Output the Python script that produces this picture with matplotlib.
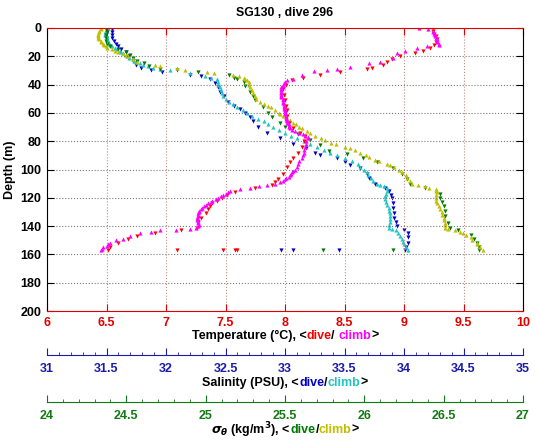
import matplotlib.pyplot as plt
from matplotlib.ticker import MultipleLocator

plt.rcParams['font.family'] = ['Liberation Sans', 'DejaVu Sans']
plt.rcParams['font.weight'] = 'bold'
plt.rcParams['axes.titleweight'] = 'bold'
plt.rcParams['axes.labelweight'] = 'bold'
plt.rcParams['font.size'] = 9

# Temperature, dive (red)
t_dive_z = [0, 2, 4, 6, 8, 10, 12, 14, 16, 18, 20, 22, 24, 26, 28, 29, 31, 33, 35, 37,
            40, 43, 47, 51, 55, 58, 62, 67, 71, 74, 76, 80, 84, 88, 92, 95, 98, 103, 107, 109,
            111, 113, 116, 118, 120, 122, 124, 126, 128, 131, 134, 137, 141, 143, 145, 147, 149, 152, 155, 157,
            157, 157, 157, 157]
t_dive = [9.24, 9.24, 9.25, 9.27, 9.28, 9.27, 9.25, 9.22, 9.16, 9.09, 8.97, 8.90, 8.86, 8.82, 8.73, 8.69, 8.46, 8.29, 8.15, 8.06,
          8.01, 7.98, 7.99, 8.00, 8.01, 8.02, 8.02, 8.03, 8.07, 8.13, 8.17, 8.16, 8.14, 8.11, 8.07, 8.04, 8.02, 7.98, 7.94, 7.92,
          7.89, 7.75, 7.58, 7.51, 7.47, 7.43, 7.39, 7.37, 7.35, 7.34, 7.29, 7.27, 7.26, 7.13, 6.91, 6.76, 6.68, 6.60, 6.53, 6.51,
          7.09, 7.48, 7.58, 7.60]

# Temperature, climb (magenta)
t_climb_z = [157, 156, 155, 154, 153, 152, 150, 149, 147, 145, 144, 143, 142.5, 142, 141, 140, 139, 138, 137, 136,
             135, 134, 133, 132, 131, 130, 129, 128, 127, 126, 125, 124, 123, 122, 121, 120, 119, 118, 117, 116,
             115, 114, 113, 112, 111, 110, 109, 108, 107, 106, 105, 104, 103, 102, 101, 100, 98, 96, 94, 92,
             90, 88, 86, 84, 82, 80, 78, 77, 76, 75, 74, 73, 72, 71, 70, 69, 68, 67, 66, 65,
             64, 63, 62, 61, 60, 59, 58, 57, 56, 55, 54, 53, 52, 51, 50, 49, 48, 47, 46, 45,
             44, 43, 42, 41, 40, 39, 38, 37, 36, 33, 30.5, 30, 29, 27.5, 25, 24, 21, 18, 16, 14,
             13, 12, 11, 10, 9, 8, 7, 6, 5, 4, 3, 2, 1, 0]
t_climb = [6.45, 6.46, 6.47, 6.50, 6.51, 6.53, 6.58, 6.64, 6.70, 6.78, 6.87, 6.95, 7.08, 7.20, 7.25, 7.27, 7.28, 7.27, 7.27, 7.26,
           7.27, 7.26, 7.27, 7.27, 7.27, 7.28, 7.28, 7.29, 7.30, 7.32, 7.34, 7.35, 7.38, 7.39, 7.42, 7.44, 7.46, 7.48, 7.50, 7.52,
           7.54, 7.62, 7.71, 7.78, 7.85, 7.92, 7.96, 7.98, 8.00, 8.01, 8.03, 8.04, 8.05, 8.06, 8.07, 8.08, 8.10, 8.11, 8.12, 8.14,
           8.15, 8.16, 8.16, 8.17, 8.18, 8.18, 8.19, 8.19, 8.17, 8.15, 8.12, 8.08, 8.06, 8.04, 8.03, 8.03, 8.03, 8.02, 8.02, 8.02,
           8.01, 8.01, 8.01, 8.00, 8.00, 8.00, 8.00, 7.99, 7.99, 7.99, 7.99, 7.98, 7.98, 7.98, 7.98, 7.97, 7.97, 7.97, 7.97, 7.97,
           7.97, 7.97, 7.97, 7.98, 7.98, 7.99, 8.00, 8.02, 8.07, 8.14, 8.24, 8.35, 8.44, 8.55, 8.71, 8.80, 8.91, 8.94, 9.01, 9.11,
           9.19, 9.29, 9.29, 9.28, 9.28, 9.28, 9.27, 9.26, 9.26, 9.25, 9.24, 9.24, 9.20, 9.13]

# Salinity, dive (blue)
s_dive_z = [1, 3, 5, 7, 9, 11, 13, 15, 17, 20, 23, 26, 28, 30, 31, 33, 34, 36, 39, 42,
            45, 48, 52, 55, 57, 60, 63, 66, 70, 74, 78, 82, 85, 88, 90, 92, 95, 97, 99, 103,
            106, 110, 113, 115, 118, 120, 124, 127, 131, 134, 137, 140, 143, 145, 148, 152, 155, 157,
            157, 157, 157]
s_dive = [31.55, 31.55, 31.55, 31.55, 31.56, 31.58, 31.60, 31.62, 31.66, 31.69, 31.72, 31.75, 31.79, 31.87, 31.97, 32.20, 32.29, 32.37, 32.41, 32.44,
          32.45, 32.49, 32.52, 32.57, 32.62, 32.66, 32.71, 32.73, 32.77, 32.85, 32.96, 33.07, 33.18, 33.25, 33.29, 33.44, 33.50, 33.55, 33.63, 33.69,
          33.71, 33.76, 33.84, 33.87, 33.89, 33.90, 33.91, 33.91, 33.92, 33.92, 33.93, 33.94, 34.00, 34.03, 34.03, 34.03, 34.02, 34.01,
          32.97, 33.07, 33.45]

# Salinity, climb (cyan)
s_climb_z = [157, 155, 153, 151, 149, 147, 145, 143, 142, 141, 139, 137, 135, 133, 131, 129, 127, 125, 123, 121,
             119, 117, 115, 113, 112, 111, 110, 108, 106, 104, 102, 100, 98, 96, 94, 92, 90, 88, 86, 84,
             82, 80, 78, 76, 74, 72, 70, 68, 66, 64, 62, 60, 58, 56, 54, 52, 50, 48, 46, 44,
             42, 40, 38, 36, 35, 34, 32, 30, 29, 28, 27, 26, 25, 24, 23, 22, 21, 20, 19, 18,
             17, 16, 15, 14, 13, 12, 11, 10, 9, 8, 7, 6, 5, 4, 3, 2, 1, 0]
s_climb = [34.03, 34.02, 34.00, 33.99, 33.98, 33.97, 33.95, 33.93, 33.90, 33.87, 33.87, 33.88, 33.88, 33.88, 33.88, 33.87, 33.87, 33.86, 33.85, 33.84,
           33.84, 33.85, 33.86, 33.86, 33.83, 33.80, 33.77, 33.74, 33.72, 33.70, 33.69, 33.66, 33.63, 33.61, 33.56, 33.50, 33.44, 33.38, 33.33, 33.27,
           33.21, 33.16, 33.10, 33.05, 33.00, 32.95, 32.90, 32.86, 32.82, 32.77, 32.72, 32.68, 32.65, 32.60, 32.56, 32.53, 32.50, 32.48, 32.47, 32.46,
           32.45, 32.44, 32.44, 32.43, 32.38, 32.33, 32.20, 32.03, 31.95, 31.89, 31.85, 31.81, 31.78, 31.75, 31.73, 31.72, 31.69, 31.67, 31.66, 31.64,
           31.62, 31.61, 31.59, 31.57, 31.55, 31.53, 31.52, 31.51, 31.51, 31.50, 31.50, 31.50, 31.49, 31.49, 31.49, 31.50, 31.50, 31.51]

# Sigma-theta, dive (green)
d_dive_z = [1, 3, 5, 7, 9, 11, 13, 15, 17, 19, 21, 23, 25, 27, 29, 30, 31, 33, 35, 36,
            38, 41, 45, 48, 51, 56, 60, 63, 67, 70, 75, 79, 83, 87, 89, 92, 95, 99, 103, 107,
            110, 113, 117, 120, 123, 126, 129, 133, 138, 141, 143, 146, 149, 152, 155, 157,
            157, 157]
d_dive = [24.37, 24.38, 24.37, 24.37, 24.37, 24.38, 24.40, 24.45, 24.50, 24.52, 24.54, 24.57, 24.61, 24.64, 24.71, 24.82, 24.95, 25.15, 25.18, 25.20,
          25.24, 25.25, 25.28, 25.30, 25.31, 25.36, 25.39, 25.42, 25.47, 25.50, 25.58, 25.66, 25.72, 25.78, 25.89, 25.99, 26.08, 26.18, 26.24, 26.27,
          26.29, 26.38, 26.48, 26.48, 26.49, 26.50, 26.51, 26.51, 26.53, 26.54, 26.59, 26.67, 26.69, 26.71, 26.72, 26.72,
          25.74, 26.18]

# Sigma-theta, climb (yellow)
d_climb_z = [157, 155, 153, 152, 150, 148, 146, 145, 144, 143, 142, 141, 139, 138, 136, 134, 132, 130, 128, 126,
             124, 122, 120, 118, 116, 115, 114, 113, 112, 111, 110, 108, 106, 104, 102, 100, 98, 97, 96, 94,
             93, 91, 90, 88, 86, 85, 84, 82, 81, 79, 78, 76, 74, 73, 71, 70, 68, 67, 65, 64,
             62, 61, 60, 58, 56, 55, 54, 52, 50, 48, 46, 44, 42, 40, 38, 37, 36, 35, 34, 33,
             32, 31, 30, 28, 27, 26, 24, 22, 20, 19, 18, 17, 16, 15, 14, 13, 12, 11, 10, 9,
             8, 7, 6, 5, 4, 3, 2, 1, 0]
d_climb = [26.75, 26.73, 26.71, 26.71, 26.68, 26.67, 26.64, 26.62, 26.60, 26.57, 26.53, 26.51, 26.51, 26.51, 26.50, 26.50, 26.49, 26.49, 26.48, 26.47,
           26.46, 26.45, 26.45, 26.45, 26.46, 26.45, 26.45, 26.41, 26.38, 26.34, 26.30, 26.29, 26.27, 26.26, 26.24, 26.22, 26.19, 26.16, 26.14, 26.09,
           26.07, 26.03, 26.01, 25.97, 25.94, 25.91, 25.88, 25.82, 25.79, 25.75, 25.73, 25.69, 25.66, 25.64, 25.61, 25.59, 25.57, 25.55, 25.53, 25.51,
           25.49, 25.47, 25.46, 25.44, 25.41, 25.39, 25.37, 25.34, 25.32, 25.31, 25.30, 25.29, 25.28, 25.27, 25.27, 25.26, 25.25, 25.24, 25.21, 25.17,
           25.05, 25.01, 24.87, 24.82, 24.71, 24.68, 24.57, 24.54, 24.51, 24.50, 24.48, 24.45, 24.43, 24.41, 24.38, 24.37, 24.36, 24.35, 24.34, 24.34,
           24.33, 24.32, 24.32, 24.32, 24.32, 24.33, 24.33, 24.34, 24.34]

# tick positions / labels for the three x scales and depth
t_ticks = [6, 6.5, 7, 7.5, 8, 8.5, 9, 9.5, 10]
t_labels = ['6', '6.5', '7', '7.5', '8', '8.5', '9', '9.5', '10']
s_ticks = [31, 31.5, 32, 32.5, 33, 33.5, 34, 34.5, 35]
s_labels = ['31', '31.5', '32', '32.5', '33', '33.5', '34', '34.5', '35']
d_ticks = [24, 24.5, 25, 25.5, 26, 26.5, 27]
d_labels = ['24', '24.5', '25', '25.5', '26', '26.5', '27']
z_ticks = [0, 20, 40, 60, 80, 100, 120, 140, 160, 180, 200]

W, H = 535, 442
red = '#e00000'
sal_col = '#1c1ca8'
den_col = '#127a12'

fig = plt.figure(figsize=(W / 100, H / 100), dpi=100)
ax = fig.add_axes([47 / W, 1 - 311 / H, 476 / W, 283 / H])
ax_s = ax.twiny()
ax_d = ax.twiny()

ms = 3
ax_s.plot(s_dive, s_dive_z, 'v', color='#0000c8', ms=ms, mew=0)
ax_s.plot(s_climb, s_climb_z, '^', color='#22c4c4', ms=ms, mew=0)
ax_d.plot(d_dive, d_dive_z, 'v', color='#007a00', ms=ms, mew=0)
ax_d.plot(d_climb, d_climb_z, '^', color='#bfbf00', ms=ms, mew=0)
ax.plot(t_dive, t_dive_z, 'v', color='#ff0000', ms=ms, mew=0)
ax.plot(t_climb, t_climb_z, '^', color='#ff00ff', ms=ms, mew=0)

# main axes (temperature / depth)
ax.set_zorder(3)
ax.patch.set_visible(False)
ax.set_xlim(6, 10)
ax.set_ylim(200, 0)
ax.set_xticks(t_ticks, labels=t_labels, fontweight='bold')
ax.set_yticks(z_ticks, labels=[str(z) for z in z_ticks], fontweight='bold')
ax.tick_params(axis='x', which='both', top=True, direction='in', length=5,
               color=red, labelcolor=red, pad=4)
ax.tick_params(axis='y', which='both', right=True, direction='in', length=5, pad=4)
ax.spines['top'].set_color(red)
ax.spines['bottom'].set_color(red)
ax.xaxis.grid(True, color='#c08a8a', linestyle=':', linewidth=0.8)
ax.yaxis.grid(True, color='#7a7a7a', linestyle=':', linewidth=0.8)
ax.set_ylabel('Depth (m)', labelpad=3, fontweight='bold')
ax.set_title('SG130 , dive 296', pad=9, fontweight='bold', fontsize=8.8)


def extra_axis(a, lo, hi, col, offset, ticks, labels):
    for side in ('top', 'left', 'right'):
        a.spines[side].set_visible(False)
    a.spines['bottom'].set_position(('outward', offset))
    a.spines['bottom'].set_color(col)
    a.xaxis.set_ticks_position('bottom')
    a.set_xlim(lo, hi)
    a.set_xticks(ticks, labels=labels, fontweight='bold')
    a.xaxis.set_minor_locator(MultipleLocator(0.1))
    a.tick_params(axis='x', which='major', direction='in', length=5, color=col,
                  labelcolor=col, pad=5.5)
    a.tick_params(axis='x', which='minor', direction='in', length=2.5, color=col)
    a.tick_params(axis='y', left=False, right=False, labelleft=False, labelright=False)


extra_axis(ax_s, 31, 35, sal_col, 31.7, s_ticks, s_labels)
extra_axis(ax_d, 24, 27, den_col, 65.5, d_ticks, d_labels)


def colored_label(parts, ypix):
    fig.canvas.draw()
    r = fig.canvas.get_renderer()
    texts = [fig.text(0, 1 - ypix / H, s, color=c, ha='left', va='center',
                      fontweight='bold', fontsize=9) for s, c in parts]
    widths = [t.get_window_extent(r).width for t in texts]
    x = 285 - sum(widths) / 2
    for t, w in zip(texts, widths):
        t.set_x(x / W)
        x += w


colored_label([('Temperature (°C), <', 'black'), ('dive', '#ff0000'), ('/ ', 'black'),
               ('climb', '#ff00ff'), ('>', 'black')], 336)
colored_label([('Salinity (PSU), <', 'black'), ('dive', '#0000c8'), ('/', 'black'),
               ('climb', '#22c4c4'), ('>', 'black')], 383)
colored_label([(r'$\sigma_\theta$ (kg/m$^3$), <', 'black'), ('dive', '#007a00'), ('/', 'black'),
               ('climb', '#bfbf00'), ('>', 'black')], 430)

fig.savefig('out.png', dpi=100)
